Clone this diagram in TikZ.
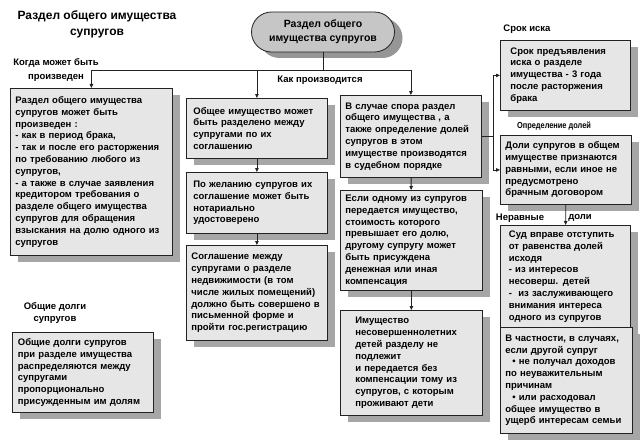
\documentclass[tikz,border=0pt]{standalone}
\usepackage{fontspec}
\setmainfont{Liberation Sans}
\usetikzlibrary{arrows.meta,shadows}
\definecolor{boxfill}{HTML}{E6E6E6}
\definecolor{shadowgray}{HTML}{A6A6A6}
\definecolor{ovalfill}{HTML}{C6C6C6}
\definecolor{ovalshadow}{HTML}{969696}
\definecolor{linecol}{HTML}{222222}
\begin{document}
\begin{tikzpicture}[x=1pt,y=-1pt,
  txt/.style={font=\bfseries\fontsize{9.5}{11.8}\selectfont},
  box/.style={txt, draw=linecol, line width=0.8pt, fill=boxfill,
    drop shadow={shadow xshift=8pt, shadow yshift=-7pt, fill=shadowgray, opacity=1},
    align=left, inner xsep=5pt, inner ysep=0pt, anchor=north west},
  lbl/.style={txt, align=center, inner sep=0pt},
  oval/.style={draw=linecol, line width=0.8pt, fill=ovalfill, rounded corners=20pt,
    drop shadow={shadow xshift=8pt, shadow yshift=-6pt, fill=ovalshadow, opacity=1},
    minimum width=143pt, minimum height=40pt, align=center,
    font=\bfseries\fontsize{10.5}{14}\selectfont},
  arr/.style={draw=linecol, line width=0.8pt, -{Triangle[length=4pt,width=3.5pt]}},
  ln/.style={draw=linecol, line width=0.8pt}]
\useasboundingbox[fill=white] (0,0) rectangle (640,444);

% labels
\node[lbl, font=\bfseries\fontsize{12}{16}\selectfont] (title) at (97,24) {Раздел общего имущества\\супругов};
\node[lbl, font=\bfseries\fontsize{9.5}{14}\selectfont] (lwhen) at (56,70) {Когда может быть\\произведен};
\node[lbl] (lhow) at (320,80) {Как производится};
\node[lbl] (lterm) at (527,29) {Срок иска};
\node[lbl, font=\bfseries\fontsize{8.8}{11}\selectfont] (lshare) at (554,126) {\scalebox{0.84}[1]{Определение долей}};
\node[lbl] (luneq1) at (520,218) {Неравные};
\node[lbl] (luneq2) at (580,218) {доли};
\node[lbl, font=\bfseries\fontsize{9.5}{12}\selectfont] (ldebt) at (55,313) {Общие долги\\супругов};

% central node
\node[oval] (top) at (323,32) {Раздел общего\\имущества супругов};

% left column
\node[box, text width=152pt, minimum height=167pt] (lb) at (10,88) {Раздел общего имущества\\супругов может быть\\произведен :\\- как в период брака,\\- так и после его расторжения\\по требованию любого из\\супругов,\\- а также в случае заявления\\кредитором требования о\\разделе общего имущества\\супругов для обращения\\взыскания на долю одного из\\супругов};
\node[box, text width=130pt, inner xsep=5.5pt, minimum height=80pt] (gd) at (12,332) {Общие долги супругов\\при разделе имущества\\распределяются между\\супругами\\пропорционально\\присужденным им долям};

% middle column
\node[box, text width=127pt, inner xsep=7pt, minimum height=60pt] (m1) at (186,98) {Общее имущество может\\быть разделено между\\супругами по их\\соглашению};
\node[box, text width=127pt, inner xsep=7pt, minimum height=61pt] (m2) at (186,172) {По желанию супругов их\\соглашение может быть\\нотариально\\удостоверено};
\node[box, text width=131pt, minimum height=95pt] (m3) at (186,245) {Соглашение между\\супругами о разделе\\недвижимости (в том\\числе жилых помещений)\\должно быть совершено в\\письменной форме и\\пройти гос.регистрацию};

% right-middle column
\node[box, text width=131pt, minimum height=82pt] (r1) at (340,95) {В случае спора раздел\\общего имущества , а\\также определение долей\\супругов в этом\\имуществе производятся\\в судебном порядке};
\node[box, text width=132pt, minimum height=100pt] (r2) at (340,190) {Если одному из супругов\\передается имущество,\\стоимость которого\\превышает его долю,\\другому супругу может\\быть присуждена\\денежная или иная\\компенсация};
\node[box, text width=112pt, minimum width=142pt, minimum height=105pt] (r3) at (340,310) {Имущество\\несовершеннолетних\\детей разделу не\\подлежит\\и передается без\\компенсации тому из\\супругов, с которым\\проживают дети};

% right column
\node[box, text width=110pt, minimum width=130pt, minimum height=70pt] (s1) at (500,40) {Срок предъявления\\иска о разделе\\имущества - 3 года\\после расторжения\\брака};
\node[box, text width=121pt, minimum width=130pt, minimum height=69pt] (d1) at (500,135) {Доли супругов в общем\\имуществе признаются\\равными, если иное не\\предусмотрено\\брачным договором};
\node[box, text width=113pt, minimum width=130pt, minimum height=102pt] (sud) at (500,225) {Суд вправе отступить\\от равенства долей\\исходя\\- из интересов\\несоверш. детей\\-\ \ из заслуживающего\\внимания интереса\\одного из супругов};
\node[box, text width=122pt, minimum width=130pt, minimum height=106pt] (vc) at (500,327) {В частности, в случаях,\\если другой супруг\\\hspace*{7pt}• не получал доходов\\по неуважительным\\причинам\\\hspace*{7pt}• или расходовал\\общее имущество в\\ущерб интересам семьи};

% connectors
\coordinate (jm) at (323,70);
\draw[ln] (top.south) -- (jm);
\draw[ln] (lb.north |- jm) -- (r1.north |- jm);
\draw[arr] (jm) -| (lb.north);
\draw[arr] (jm) -| (m1.north);
\draw[arr] (jm) -| (r1.north);
\draw[arr] (m1) -- (m2);
\draw[arr] (m2) -- (m3);
\draw[arr] (r1) -- (r2);
\draw[arr] (r2) -- (r3);
\coordinate (jr) at (493,0);
\draw[ln] (r1.east) -- (r1.east -| jr);
\draw[arr] (r1.east -| jr) |- (s1.west);
\draw[arr] (r1.east -| jr) |- (d1.west);
\draw[arr] (d1) -- (sud);
\end{tikzpicture}
\end{document}
